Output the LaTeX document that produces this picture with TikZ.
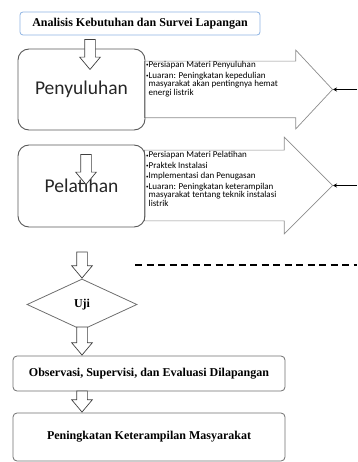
\documentclass[tikz,border=0pt]{standalone}
\usepackage{fontspec}
\setmainfont{Liberation Serif}
\newfontfamily\calibri{Carlito}
\usetikzlibrary{shapes.geometric,shapes.arrows,arrows.meta,positioning}
\definecolor{boxgray}{HTML}{6E6E6E}
\definecolor{arrgray}{HTML}{8C8C8C}
\definecolor{lightblue}{HTML}{8DB3E2}
\newcommand{\bul}{\raisebox{.2ex}{\fontsize{5pt}{5pt}\selectfont\textbullet}}

\begin{document}
\begin{tikzpicture}[x=1pt,y=-1pt,
	box/.style={draw=boxgray,line width=.8pt,rounded corners=4pt,minimum width=272pt,inner sep=0,font=\bfseries\fontsize{12}{14}\selectfont},
	phase/.style={draw=boxgray!80!black,line width=.9pt,rounded corners=11pt,minimum width=127pt,inner sep=0,text=black!85,font=\calibri\fontsize{19.5}{22}\selectfont},
	bigarrow/.style={single arrow,draw=arrgray,line width=.7pt,inner xsep=0pt,minimum height=188pt},
	hollow/.style={single arrow,draw=black!75,fill=white,line width=.7pt,shape border rotate=270,inner sep=5pt,single arrow head extend=5pt,single arrow tip angle=80},
	note/.style={align=left,inner sep=0,anchor=north west,font=\calibri\fontsize{9}{8.3}\selectfont},
	pointer/.style={line width=1.5pt,-{Stealth[length=4pt,width=4pt]}}]
	\useasboundingbox (0,0) rectangle (357,462);
	% arrows with the outcomes
	\node [bigarrow,inner ysep=28pt,single arrow head extend=11pt,single arrow tip angle=94,anchor=tip] (out1) at (333,89.5) {};
	\node [bigarrow,inner ysep=35pt,single arrow head extend=13pt,single arrow tip angle=90,anchor=tip] (out2) at (333,185.5) {};
	\node [note] (isi1) at (146,61) {\bul Persiapan Materi Penyuluhan\\[2.8pt]
		\bul Luaran: Peningkatan kepedulian\\
		\phantom{\bul}masyarakat akan pentingnya hemat\\
		\phantom{\bul}energi listrik};
	\node [note] (isi2) at (146,151.5) {\bul Persiapan Materi Pelatihan\\[2.2pt]
		\bul Praktek Instalasi\\[2.2pt]
		\bul Implementasi dan Penugasan\\[2.2pt]
		\bul Luaran: Peningkatan keterampilan\\
		\phantom{\bul}masyarakat tentang teknik instalasi\\
		\phantom{\bul}listrik};
	% boxes
	\node [box,draw=lightblue,rounded corners=3pt,minimum width=240pt,minimum height=23pt] (survei) at (140,23.5) {Analisis Kebutuhan dan Survei Lapangan};
	\node [phase,minimum height=81pt] (penyuluhan) at (81.5,89.5) {Penyuluhan};
	\node [phase,minimum height=82pt] (pelatihan) at (81.5,186) {Pelatihan};
	\node [diamond,draw=boxgray,line width=.8pt,minimum width=110pt,minimum height=51pt,inner sep=0,font=\bfseries\fontsize{12}{14}\selectfont] (uji) at (82,304.5) {Uji};
	\node [box,minimum height=35pt] (observasi) at (149,373.5) {Observasi, Supervisi, dan Evaluasi Dilapangan};
	\node [box,minimum height=48pt] (hasil) at (149,437) {Peningkatan Keterampilan Masyarakat};
	% hollow arrows
	\node [hollow,minimum height=30pt,anchor=tip] (a1) at (90,70) {};
	\node [hollow,minimum height=30pt,anchor=tip] (a2) at (86,185) {};
	\node [hollow,minimum height=26pt,anchor=tip] (a3) at (uji.north) {};
	\node [hollow,minimum height=28pt,anchor=tip] (a4) at (uji.south |- observasi.north) {};
	\node [hollow,minimum height=21pt,anchor=tip] (a5) at (uji.south |- hasil.north) {};
	% pointers into the arrow tips
	\coordinate (edge1) at (357,89.5);
	\coordinate (edge2) at (357,185.5);
	\draw [pointer] (edge1) -- (out1.tip);
	\draw [pointer] (edge2) -- (out2.tip);
	\draw [line width=1.3pt,dash pattern=on 7pt off 4.5pt] (135,265) -- (357,265);
\end{tikzpicture}
\end{document}
